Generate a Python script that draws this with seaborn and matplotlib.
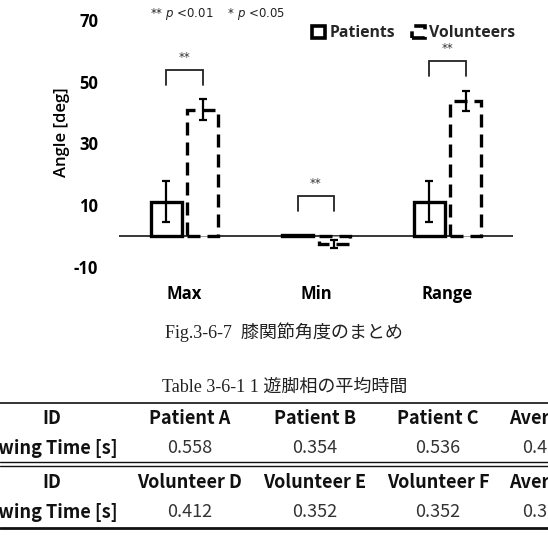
import numpy as np
import pandas as pd
import matplotlib
matplotlib.use('Agg')
import matplotlib.pyplot as plt
import seaborn as sns
from matplotlib.patches import Patch
from matplotlib.lines import Line2D

# ---------------- data ----------------
categories = ['Max', 'Min', 'Range']
groups = ['Patients', 'Volunteers']
patients_mean = [11.2, 0.4, 11.2]
patients_sd = [6.5, 0.0, 6.5]
volunteers_mean = [41.0, -2.6, 43.8]
volunteers_sd = [3.4, 1.4, 3.3]
sig_labels = ['**', '**', '**']
y_ticks = [-10, 10, 30, 50, 70]

table_row_label = 'Swing Time [s]'
patient_ids = ['Patient A', 'Patient B', 'Patient C', 'Average']
patient_swing = [0.558, 0.354, 0.536, 0.483]
volunteer_ids = ['Volunteer D', 'Volunteer E', 'Volunteer F', 'Average']
volunteer_swing = [0.412, 0.352, 0.352, 0.372]

fig_caption = 'Fig.3-6-7  膝関節角度のまとめ'
table_caption = 'Table 3-6-1 1 遊脚相の平均時間'

# ---------------- figure ----------------
sns.set_theme(style='white')
plt.rcParams['font.family'] = ['Open Sans', 'Noto Sans CJK JP', 'DejaVu Sans']

W, H = 548, 542
fig = plt.figure(figsize=(W / 100, H / 100), dpi=100)


def fx(x):
    return x / W


def fy(y):
    return 1 - y / H


ax = fig.add_axes([fx(119), fy(267), fx(513) - fx(119), fy(20) - fy(267)])

df = pd.DataFrame({
    'category': categories * 2,
    'group': [groups[0]] * len(categories) + [groups[1]] * len(categories),
    'angle': patients_mean + volunteers_mean,
})

sns.barplot(data=df, x='category', y='angle', hue='group', order=categories,
            hue_order=groups, width=0.556, gap=0.15, errorbar=None,
            palette=['white', 'white'], edgecolor='black', linewidth=2.4,
            legend=False, ax=ax, zorder=3)

bar_containers = list(ax.containers)
sds = [patients_sd, volunteers_sd]
means = [patients_mean, volunteers_mean]
dash = (0, (3.9, 2.1))
for gi, cont in enumerate(bar_containers):
    for bi, bar in enumerate(cont.patches):
        bar.set_facecolor('white')
        bar.set_edgecolor('black')
        if gi == 1:
            bar.set_linestyle(dash)
        xc = bar.get_x() + bar.get_width() / 2
        if sds[gi][bi] > 0:
            ax.errorbar(xc, means[gi][bi], yerr=sds[gi][bi], fmt='none',
                        ecolor='black', elinewidth=1.6, capsize=2.6,
                        capthick=1.6, zorder=4)

ax.axhline(0, color='black', lw=1.1, zorder=2)

ax.set_xlim(-0.5, 2.5)
ax.set_ylim(-10, 70)
ax.set_yticks(y_ticks)
ax.set_yticklabels([str(t) for t in y_ticks])
for s in ax.spines.values():
    s.set_visible(False)
ax.tick_params(axis='y', length=0, pad=15, labelsize=12)
ax.tick_params(axis='x', length=0, pad=13, labelsize=12)
for lab in ax.get_xticklabels() + ax.get_yticklabels():
    lab.set_fontweight('bold')
    lab.set_color('black')
ax.set_xlabel('')
ax.set_ylabel('')
fig.text(fx(62), fy(132.5), 'Angle [deg]', rotation=90, ha='center',
         va='center', fontsize=12, fontweight='semibold', color='black')

# significance brackets
bracket_tops = [53.7, 12.9, 56.6]
for i, lab in enumerate(sig_labels):
    b0 = bar_containers[0].patches[i]
    b1 = bar_containers[1].patches[i]
    x0 = b0.get_x() + b0.get_width() / 2
    x1 = b1.get_x() + b1.get_width() / 2
    top = bracket_tops[i]
    ax.plot([x0, x0, x1, x1], [top - 4.8, top, top, top - 4.8],
            color='#222222', lw=1.3, zorder=5, solid_joinstyle='miter')
    ax.text((x0 + x1) / 2, top + 2.0, lab, ha='center', va='bottom',
            fontsize=8.5, color='#333333', family='DejaVu Sans')

# legend
handles = [
    Patch(facecolor='white', edgecolor='black', linewidth=2.6, label=groups[0]),
    Patch(facecolor='white', edgecolor='black', linewidth=2.6,
          linestyle=dash, label=groups[1]),
]
fig.legend(handles=handles, loc='center left',
           bbox_to_anchor=(fx(312), fy(33)), ncol=2, frameon=False,
           handlelength=0.8, handleheight=0.8, handletextpad=0.3,
           columnspacing=1.1, borderpad=0, borderaxespad=0,
           prop={'family': 'Open Sans', 'weight': 'bold', 'size': 11.3})

fig.text(fx(150), fy(14), r'** $p$ <0.01    * $p$ <0.05', ha='left',
         va='center', fontsize=8.5, family='DejaVu Sans', color='#222222')

# captions
serif = ['Liberation Serif', 'Noto Sans CJK JP']
fig.text(fx(284), fy(332), fig_caption, ha='center', va='center',
         fontsize=13, family=serif, color='#222222')
fig.text(fx(285), fy(387), table_caption, ha='center', va='center',
         fontsize=13, family=serif, color='#222222')

# table
col_x = [52, 190, 315, 438, 545]
jp = ['Noto Sans CJK JP', 'DejaVu Sans']


def table_block(ids, vals, y_head, y_val):
    fig.text(fx(col_x[0]), fy(y_head), 'ID', ha='center', va='center',
             fontsize=13, fontweight='bold', family=jp, color='#111111')
    fig.text(fx(col_x[0]), fy(y_val), table_row_label, ha='center',
             va='center', fontsize=13, fontweight='bold', family=jp,
             color='#111111')
    for cx, name, v in zip(col_x[1:], ids, vals):
        fig.text(fx(cx), fy(y_head), name, ha='center', va='center',
                 fontsize=13, fontweight='bold', family=jp, color='#111111')
        fig.text(fx(cx), fy(y_val), f'{v:.3f}', ha='center', va='center',
                 fontsize=13, family=jp, color='#333333')


table_block(patient_ids, patient_swing, 419, 448)
table_block(volunteer_ids, volunteer_swing, 482, 512)

for yy, lw in [(403, 1.2), (462, 1.0), (466, 1.0), (528, 2.0)]:
    fig.add_artist(Line2D([0, 1], [fy(yy), fy(yy)], transform=fig.transFigure,
                          color='#111111', lw=lw))

fig.savefig('out.png', dpi=100)
